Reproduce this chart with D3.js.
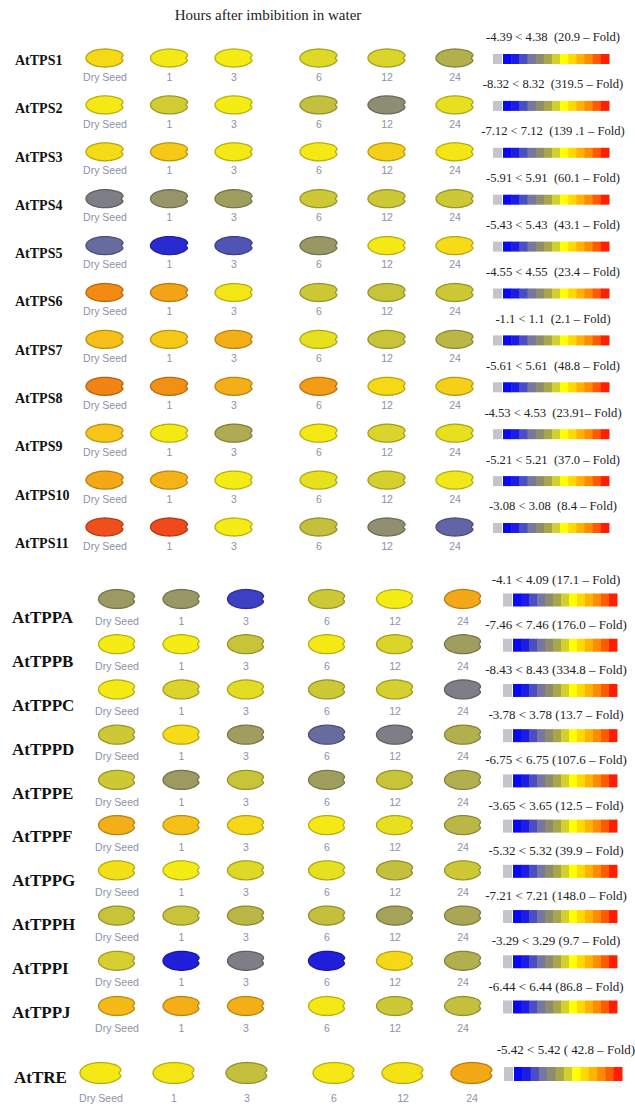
<!DOCTYPE html>
<html>
<head>
<meta charset="utf-8">
<script src="https://d3js.org/d3.v7.min.js"></script>
<style>
    body { margin: 0; background: #fff; }
    svg { display: block; }
</style>
</head>
<body>
<div id="my_dataviz"></div>

<script>
    // Time points (hours after imbibition)
    const columns = ["Dry Seed", "1", "3", "6", "12", "24"];

    // Trehalose-6-phosphate synthase genes
    const tpsGenes = ["AtTPS1", "AtTPS2", "AtTPS3", "AtTPS4", "AtTPS5", "AtTPS6",
        "AtTPS7", "AtTPS8", "AtTPS9", "AtTPS10", "AtTPS11"];
    // relative expression level per time point, on the legend scale (-6 blue .. 0 yellow .. 6 red)
    const tpsLevels = [
        [0.6, 0.1, 0.0, -0.5, -0.6, -1.5],
        [0.1, -0.8, 0.0, -1.1, -2.5, -0.3],
        [0.5, 1.1, 0.1, 0.1, 0.9, 0.2],
        [-3.0, -2.2, -1.9, -0.9, -0.9, -0.9],
        [-3.6, -5.0, -4.2, -2.1, 0.1, 0.5],
        [3.0, 2.2, 0.2, -0.9, -1.0, -0.9],
        [1.4, 1.1, 1.8, -0.3, -1.0, -1.3],
        [3.2, 2.8, 1.8, 2.4, 0.6, 0.9],
        [1.2, 0.1, -1.6, 0.1, -0.6, -0.3],
        [2.0, 1.7, 0.0, -0.3, -0.7, -0.1],
        [4.8, 5.0, 0.0, -1.1, -2.4, -3.8]
    ];
    const tpsRanges = [
        "-4.39 < 4.38  (20.9 \u2013 Fold)",
        "-8.32 < 8.32  (319.5 \u2013 Fold)",
        "-7.12 < 7.12  (139 .1 \u2013 Fold)",
        "-5.91 < 5.91  (60.1 \u2013 Fold)",
        "-5.43 < 5.43  (43.1 \u2013 Fold)",
        "-4.55 < 4.55  (23.4 \u2013 Fold)",
        "-1.1 < 1.1  (2.1 \u2013 Fold)",
        "-5.61 < 5.61  (48.8 \u2013 Fold)",
        "-4.53 < 4.53  (23.91\u2013 Fold)",
        "-5.21 < 5.21  (37.0 \u2013 Fold)",
        "-3.08 < 3.08  (8.4 \u2013 Fold)"
    ];

    // Trehalose-6-phosphate phosphatase genes
    const tppGenes = ["AtTPPA", "AtTPPB", "AtTPPC", "AtTPPD", "AtTPPE",
        "AtTPPF", "AtTPPG", "AtTPPH", "AtTPPI", "AtTPPJ"];
    const tppLevels = [
        [-2.0, -2.1, -4.6, -0.9, 0.0, 2.0],
        [0.0, 0.0, -1.0, 0.1, -0.6, -1.9],
        [0.1, -0.6, -0.4, -0.9, -0.7, -3.0],
        [-0.9, 0.5, -1.9, -3.6, -3.0, -1.5],
        [-0.9, -2.0, -1.0, -1.9, -1.0, -1.5],
        [1.8, 1.3, 0.6, 0.1, -0.3, -1.3],
        [0.4, 0.0, -0.5, -0.3, -1.1, -0.9],
        [-1.0, -1.0, -1.3, -1.1, -1.8, -1.7],
        [-0.7, -5.3, -3.0, -5.3, 0.6, -1.5],
        [1.5, 1.8, 1.8, 0.1, -0.9, -1.1]
    ];
    const tppRanges = [
        "-4.1 < 4.09 (17.1 \u2013 Fold)",
        "-7.46 < 7.46 (176.0 \u2013 Fold)",
        "-8.43 < 8.43 (334.8 \u2013 Fold)",
        "-3.78 < 3.78 (13.7 \u2013 Fold)",
        "-6.75 < 6.75 (107.6 \u2013 Fold)",
        "-3.65 < 3.65 (12.5 \u2013 Fold)",
        "-5.32 < 5.32 (39.9 \u2013 Fold)",
        "-7.21 < 7.21 (148.0 \u2013 Fold)",
        "-3.29 < 3.29 (9.7 \u2013 Fold)",
        "-6.44 < 6.44 (86.8 \u2013 Fold)"
    ];

    // Trehalase
    const treGenes = ["AtTRE"];
    const treLevels = [
        [0.1, 0.2, -1.1, 0.1, 0.3, 2.0]
    ];
    const treRanges = ["-5.42 < 5.42 ( 42.8 \u2013 Fold)"];

    // colour steps of the scale
    const levelSteps = [-6, -5, -4, -3, -2, -1, 0, 1, 2, 3, 4, 5, 6];

    var seedColor = d3.scaleLinear()
        .domain(levelSteps)
        .range(["#0a0af0", "#2a2ad2", "#5a5eae", "#7e7f86", "#9c9a62", "#c8c43a",
            "#f4ec14", "#f6cc18", "#f4a818", "#f28a14", "#f06a1a", "#ee4a1c", "#e8201c"])
        .clamp(true);

    var barColor = d3.scaleOrdinal()
        .domain(levelSteps)
        .range(["#0808f4", "#1c1ce6", "#4a4ec6", "#7676a0", "#8e8c6c", "#a8a64a", "#d2d02c",
            "#ffff00", "#ffd800", "#ffb200", "#ff8c00", "#ff5a00", "#ff1e00"]);

    // layout of the three blocks
    var sections = [
        { genes: tpsGenes, levels: tpsLevels, ranges: tpsRanges,
          seedY: [58, 527], labelY: [60, 543], colX: [105, 234, 319, 455],
          seedW: 38, seedH: 18, nameSize: 14, nameX: 15, tickDy: 19,
          barX: [493, 609], barH: 10, textX: 553, textDy: -22, textSize: 12.6 },
        { genes: tppGenes, levels: tppLevels, ranges: tppRanges,
          seedY: [599, 1006], labelY: [617, 1012], colX: [117, 246, 327, 463],
          seedW: 37, seedH: 19, nameSize: 17, nameX: 12, tickDy: 22,
          barX: [503, 617], barH: 13, textX: 556, textDy: -21, textSize: 13 },
        { genes: treGenes, levels: treLevels, ranges: treRanges,
          seedY: [1073, 1073], labelY: [1077, 1077], colX: [101, 247, 334, 472],
          seedW: 42, seedH: 21, nameSize: 17, nameX: 14, tickDy: 25,
          barX: [504, 622], barH: 14, textX: 566, textDy: -25, textSize: 13 }
    ];

    var width = 635, height = 1111;

    var svg = d3.select("#my_dataviz").append("svg")
        .attr("width", width)
        .attr("height", height);

    svg.append("text")
        .attr("x", 268)
        .attr("y", 20)
        .attr("text-anchor", "middle")
        .style("font-family", "'Liberation Serif', 'Times New Roman', serif")
        .style("font-size", "15px")
        .attr("fill", "#222")
        .text("Hours after imbibition in water");

    // bean shaped seed with a small notch on the right
    function seedPath(w, h) {
        var pts = d3.range(72).map(function (k) {
            var t = k / 72 * 2 * Math.PI;
            var a = t > Math.PI ? t - 2 * Math.PI : t;
            var notch = 1 - 0.14 * Math.exp(-(a * a) / (2 * 0.14 * 0.14));
            var lobe = 1 + 0.04 * Math.exp(-((a + 0.7) * (a + 0.7)) / 0.1);
            return [w / 2 * Math.cos(t) * notch * lobe, h / 2 * Math.sin(t) * lobe];
        });
        return d3.line().curve(d3.curveCatmullRomClosed)(pts);
    }

    sections.forEach(function (s) {
        var y = d3.scalePoint().domain(s.genes).range(s.seedY);
        var yName = d3.scalePoint().domain(s.genes).range(s.labelY);
        var x = d3.scaleLinear().domain([0, 2, 3, 5]).range(s.colX);
        var shape = seedPath(s.seedW, s.seedH);

        var rows = svg.append("g").selectAll(".row")
            .data(s.genes)
            .enter().append("g")
            .attr("class", "row");

        // gene names
        rows.append("text")
            .attr("x", s.nameX)
            .attr("y", function (d) { return yName(d); })
            .attr("dy", "0.35em")
            .style("font-family", "'Liberation Serif', 'Times New Roman', serif")
            .style("font-weight", "bold")
            .style("font-size", s.nameSize + "px")
            .attr("fill", "#111")
            .text(function (d) { return d; });

        // seeds
        rows.each(function (gene, gi) {
            var g = d3.select(this);
            var cells = s.levels[gi].map(function (v, ci) { return { v: v, ci: ci }; });

            g.selectAll(".seed")
                .data(cells)
                .enter().append("path")
                .attr("class", "seed")
                .attr("d", shape)
                .attr("transform", function (d) { return "translate(" + x(d.ci) + "," + y(gene) + ")"; })
                .attr("fill", function (d) { return seedColor(d.v); })
                .attr("stroke", function (d) { return d3.color(seedColor(d.v)).darker(0.8); })
                .attr("stroke-width", 1.3);

            g.selectAll(".tick")
                .data(columns)
                .enter().append("text")
                .attr("class", "tick")
                .attr("x", function (d, i) { return x(i); })
                .attr("y", y(gene) + s.tickDy)
                .attr("dy", "0.35em")
                .attr("text-anchor", "middle")
                .style("font-family", "'Liberation Sans', Arial, sans-serif")
                .style("font-size", "10.5px")
                .attr("fill", "#8d91a8")
                .text(function (d) { return d; });

            // legend for the gene
            var by = y(gene) + 1;
            g.append("text")
                .attr("x", s.textX)
                .attr("y", by + s.textDy)
                .attr("dy", "0.35em")
                .attr("text-anchor", "middle")
                .style("font-family", "'Liberation Serif', 'Times New Roman', serif")
                .style("font-size", s.textSize + "px")
                .style("white-space", "pre")
                .attr("fill", "#222")
                .text(s.ranges[gi]);

            g.append("rect")
                .attr("x", s.barX[0])
                .attr("y", by - s.barH / 2)
                .attr("width", 9)
                .attr("height", s.barH)
                .attr("fill", "#c4c4cc");

            var bx = d3.scaleBand().domain(levelSteps).range([s.barX[0] + 10, s.barX[1]]);
            g.selectAll(".step")
                .data(levelSteps)
                .enter().append("rect")
                .attr("class", "step")
                .attr("x", function (d) { return bx(d); })
                .attr("y", by - s.barH / 2)
                .attr("width", bx.bandwidth() + 0.5)
                .attr("height", s.barH)
                .attr("fill", function (d) { return barColor(d); });
        });
    });
</script>
</body>
</html>
